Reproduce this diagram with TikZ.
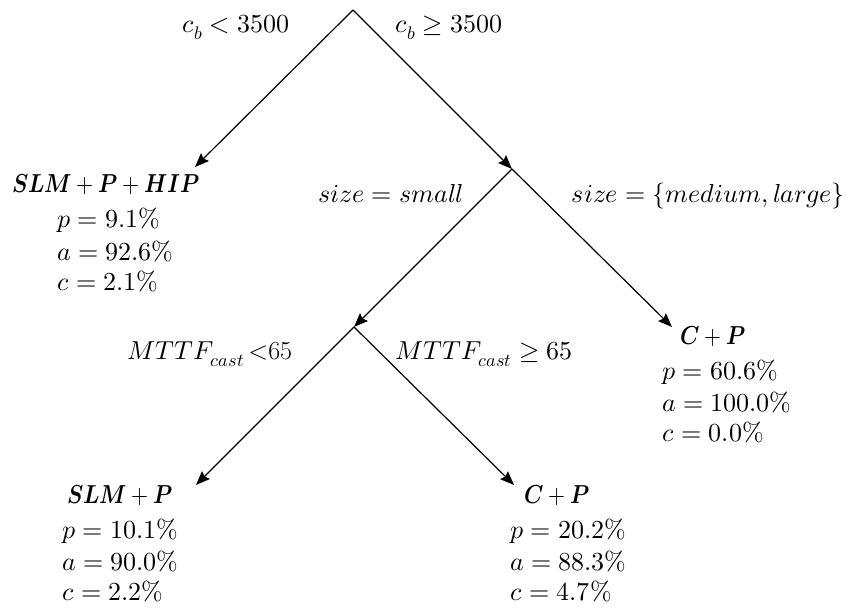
\documentclass[tikz,border=0pt]{standalone}
\usepackage{amsmath,graphicx}
\usepackage{unicode-math}
\setmathfont{Latin Modern Math}
\usetikzlibrary{arrows.meta}
\newcommand{\leaftitle}[1]{\scalebox{0.84}[1]{$\symbfit{#1}$}}
\begin{document}
\begin{tikzpicture}[x=1pt,y=-1pt,
  arr/.style={line width=1.2pt,-{Stealth[length=14pt,width=11pt,inset=2pt]}},
  txt/.style={inner sep=0pt,font=\fontsize{26}{31}\selectfont},
  lbl/.style={txt,anchor=base},
  stat/.style={txt,anchor=base west},
  ttl/.style={txt,anchor=base}]
\useasboundingbox (0,0) rectangle (846,609);
% split points
\coordinate (root) at (353,10);
\coordinate (s2) at (512,169);
\coordinate (s3) at (354,327);
% arrow tips at leaves
\coordinate (tipA) at (195,167);
\coordinate (tipB) at (672,327);
\coordinate (tipC) at (196,485);
\coordinate (tipD) at (514,485);
% connectors
\draw[arr] (root) -- (tipA);
\draw[arr] (root) -- (s2);
\draw[arr] (s2) -- (s3);
\draw[arr] (s2) -- (tipB);
\draw[arr] (s3) -- (tipC);
\draw[arr] (s3) -- (tipD);
% edge labels
\node[lbl] (e1) at (236,33) {$c_b < 3500$};
\node[lbl] (e2) at (449,33) {$c_b \geq 3500$};
\node[lbl] (e3) at (391,203) {$size = small$};
\node[txt,anchor=base east] (e4) at (845,203) {$size = \{medium, large\}$};
\node[lbl] (e5) at (210,360) {$MTTF_{cast}$\,<65};
\node[lbl] (e6) at (484,360) {$MTTF_{cast} \geq 65$};
% leaf A
\node[ttl] (A) at (106,193) {\leaftitle{SLM + P + HIP}};
\node[stat] (Ap) at (57,228) {$p = 9.1\%$};
\node[stat] (Aa) at (57,261) {$a = 92.6\%$};
\node[stat] (Ac) at (57,291) {$c = 2.1\%$};
% leaf B
\node[ttl] (B) at (713,345) {\leaftitle{C + P}};
\node[stat] (Bp) at (662,380) {$p = 60.6\%$};
\node[stat] (Ba) at (662,411) {$a = 100.0\%$};
\node[stat] (Bc) at (662,441) {$c = 0.0\%$};
% leaf C
\node[ttl] (C) at (120,503) {\leaftitle{SLM + P}};
\node[stat] (Cp) at (62,538) {$p = 10.1\%$};
\node[stat] (Ca) at (62,570) {$a = 90.0\%$};
\node[stat] (Cc) at (62,600) {$c = 2.2\%$};
% leaf D
\node[ttl] (D) at (557,503) {\leaftitle{C + P}};
\node[stat] (Dp) at (510,538) {$p = 20.2\%$};
\node[stat] (Da) at (510,570) {$a = 88.3\%$};
\node[stat] (Dc) at (510,600) {$c = 4.7\%$};
\end{tikzpicture}
\end{document}
